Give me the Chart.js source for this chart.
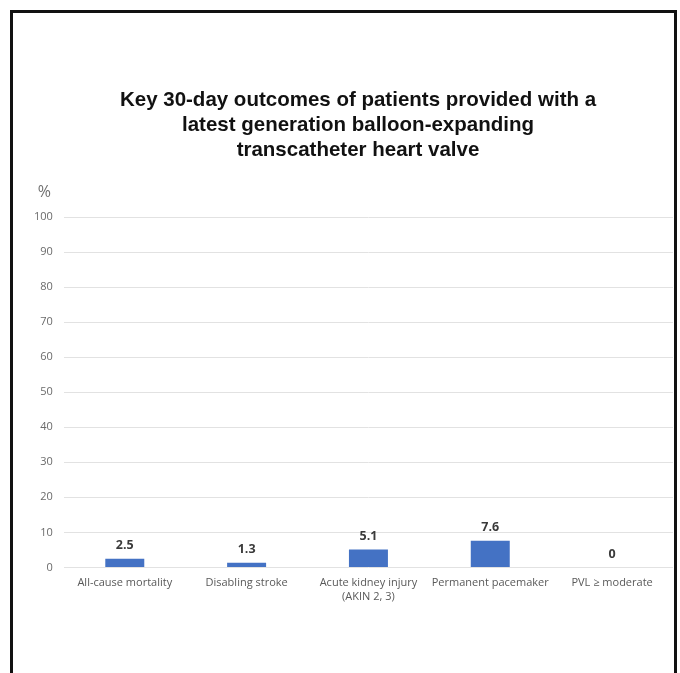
<!DOCTYPE html>
<html>
<head>
<meta charset="utf-8">
<script src="https://cdn.jsdelivr.net/npm/chart.js@4.4.1/dist/chart.umd.min.js"></script>
<style>
  html, body { margin: 0; padding: 0; background: #fff; }
  #wrap { position: relative; width: 680px; height: 673px; overflow: hidden; }
  #frame {
    position: absolute; left: 10px; top: 10px; width: 661px; height: 700px;
    border: 3px solid #111; pointer-events: none;
  }
  #title {
    position: absolute; left: 0; top: 86px; width: 716px; text-align: center;
    font: bold 20.5px "Liberation Sans", Arial, sans-serif; line-height: 25px; color: #111;
  }
  canvas { position: absolute; left: 0; top: 0; }
</style>
</head>
<body>
<div id="wrap">
  <canvas id="chart1" width="680" height="673"></canvas>
  <div id="title"></div>
  <div id="frame"></div>
</div>
<script>
  "use strict";

  // data
  var categories = [
    'All-cause mortality',
    'Disabling stroke',
    ['Acute kidney injury', '(AKIN 2, 3)'],
    'Permanent pacemaker',
    'PVL \u2265 moderate'
  ];
  var outcomes = [2.5, 1.3, 5.1, 7.6, 0];
  var yTicks = [0, 10, 20, 30, 40, 50, 60, 70, 80, 90, 100];
  var titleLines = [
    'Key 30-day outcomes of patients provided with a',
    'latest generation balloon-expanding',
    'transcatheter heart valve'
  ];
  var unitLabel = '%';

  // title sits a little right of the plot centre in the original, so it is plain text
  var titleEl = document.getElementById('title');
  titleLines.forEach(function(line) {
    var d = document.createElement('div');
    d.textContent = line;
    titleEl.appendChild(d);
  });

  // value labels above bars + the "%" above the y ticks
  var extras = {
    id: 'extras',
    afterDatasetsDraw: function(chart) {
      var ctx = chart.ctx;
      var meta = chart.getDatasetMeta(0);
      ctx.save();
      ctx.font = 'bold 12.5px "Open Sans", sans-serif';
      ctx.fillStyle = '#3a3a3a';
      ctx.textAlign = 'center';
      ctx.textBaseline = 'bottom';
      meta.data.forEach(function(bar, i) {
        ctx.fillText(String(outcomes[i]), bar.x, bar.y - 7);
      });
      var y = chart.scales.y;
      ctx.font = '16px "Open Sans", sans-serif';
      ctx.fillStyle = '#707070';
      ctx.textAlign = 'right';
      ctx.textBaseline = 'middle';
      ctx.fillText(unitLabel, y.right - 13, chart.chartArea.top - 25);
      ctx.restore();
    }
  };

  var ctx = document.getElementById('chart1').getContext('2d');

  var myChart = new Chart(ctx, {
    type: 'bar',
    data: {
      labels: categories,
      datasets: [{
        data: outcomes,
        backgroundColor: '#4472C4',
        borderWidth: 0
      }]
    },
    options: {
      responsive: false,
      animation: false,
      barPercentage: 1,
      categoryPercentage: 0.32,
      layout: {
        padding: { left: 23, right: 7, top: 217, bottom: 61 }
      },
      plugins: {
        legend: { display: false },
        tooltip: { enabled: false },
        title: { display: false }
      },
      scales: {
        x: {
          grid: { display: false, drawTicks: false },
          border: { display: false },
          ticks: {
            color: '#595959',
            padding: 8,
            maxRotation: 0,
            autoSkip: false,
            font: { family: '"Open Sans", sans-serif', size: 11, lineHeight: 1.3 }
          }
        },
        y: {
          min: 0,
          max: 100,
          afterBuildTicks: function(axis) {
            axis.ticks = yTicks.map(function(v) { return { value: v }; });
          },
          grid: { color: '#e2e2e2', lineWidth: 1, drawTicks: false },
          border: { display: false },
          ticks: {
            color: '#6b6b6b',
            padding: 11,
            font: { family: '"Open Sans", sans-serif', size: 11 }
          }
        }
      }
    },
    plugins: [extras]
  });
</script>
</body>
</html>
